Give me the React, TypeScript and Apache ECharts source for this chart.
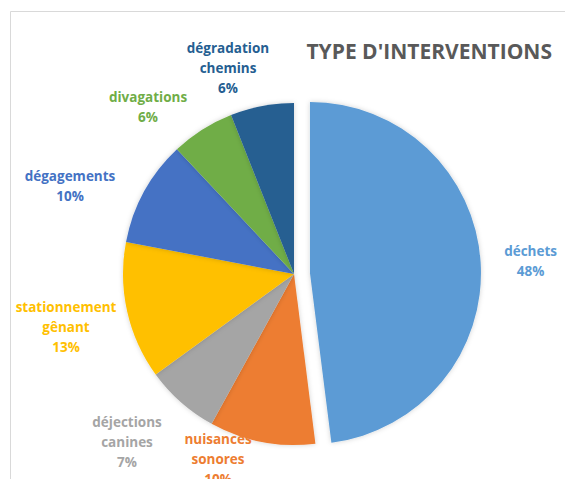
import React, { useEffect, useRef } from "react";
import * as echarts from "echarts";

const categories = [
  "déchets",
  "nuisances sonores",
  "déjections canines",
  "stationnement gênant",
  "dégagements",
  "divagations",
  "dégradation chemins",
];
const labelLines = [
  "déchets",
  "nuisances\nsonores",
  "déjections\ncanines",
  "stationnement\ngênant",
  "dégagements",
  "divagations",
  "dégradation\nchemins",
];
const values = [48, 10, 7, 13, 10, 6, 6];
const colors = ["#5B9BD5", "#ED7D31", "#A5A5A5", "#FFC000", "#4472C4", "#70AD47", "#255E91"];
const title = "TYPE D'INTERVENTIONS";

// label centre offsets from the pie centre (layout only)
const CX = 294;
const CY = 274;
const labelOffsets: [number, number][] = [
  [222, -10],
  [-76, 185],
  [-167, 168],
  [-228, 53],
  [-224, -88],
  [-146, -167],
  [-66, -206],
];

export default function App() {
  const ref = useRef<HTMLDivElement>(null);
  useEffect(() => {
    if (!ref.current) return;
    const chart = echarts.init(ref.current, null, { renderer: "svg" });
    const total = values.reduce((a, b) => a + b, 0);
    chart.setOption({
      animation: false,
      backgroundColor: "#ffffff",
      title: {
        text: title,
        right: 8,
        top: 35,
        textStyle: {
          fontFamily: "Open Sans",
          fontWeight: "bold",
          fontSize: 21,
          color: "#595959",
        },
      },
      graphic: [
        {
          type: "rect",
          shape: { x: 10.5, y: 11.5, width: 700, height: 600 },
          style: { fill: "none", stroke: "#D9D9D9", lineWidth: 1 },
          silent: true,
        },
      ],
      series: [
        {
          type: "pie",
          center: [CX, CY],
          radius: [0, 171],
          startAngle: 90,
          clockwise: true,
          selectedMode: "single",
          selectedOffset: 16,
          avoidLabelOverlap: false,
          itemStyle: {
            borderWidth: 0,
            shadowBlur: 5,
            shadowColor: "rgba(0,0,0,0.18)",
          },
          select: { itemStyle: { borderWidth: 0 } },
          label: {
            show: true,
            position: "outside",
            fontFamily: "Open Sans",
            fontWeight: "bold",
            fontSize: 13.5,
            lineHeight: 20,
            align: "center",
            formatter: (p: any) =>
              labelLines[p.dataIndex] + "\n" + Math.round((p.value / total) * 100) + "%",
          },
          labelLine: { show: false },
          labelLayout: (p: any) => {
            const o = labelOffsets[p.dataIndex];
            return {
              x: CX + o[0],
              y: CY + o[1],
              align: "center",
              verticalAlign: "middle",
              hideOverlap: false,
            };
          },
          data: categories.map((c, i) => ({
            name: c,
            value: values[i],
            selected: i === 0,
            itemStyle: { color: colors[i] },
            label: { color: colors[i] },
          })),
        },
      ],
    });
    return () => chart.dispose();
  }, []);
  return (
    <div
      ref={ref}
      style={{ position: "absolute", left: 0, top: 0, width: 565, height: 479 }}
    />
  );
}
